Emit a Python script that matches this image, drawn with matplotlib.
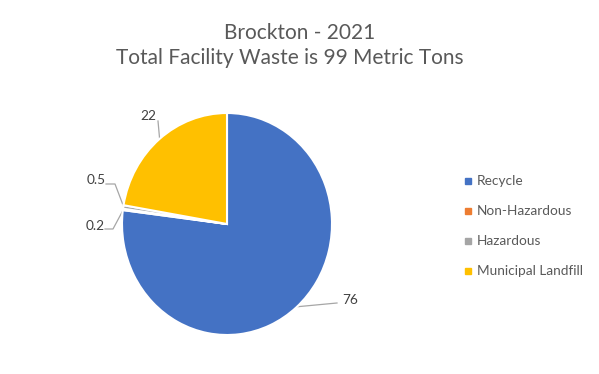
import numpy as np
import matplotlib
matplotlib.use("Agg")
import matplotlib.pyplot as plt
from matplotlib.lines import Line2D

categories = ["Recycle", "Non-Hazardous", "Hazardous", "Municipal Landfill"]
values = [76, 0.2, 0.5, 22]
value_labels = ["76", "0.2", "0.5", "22"]
colors = ["#4472C4", "#ED7D31", "#A5A5A5", "#FFC000"]

plt.rcParams['font.family'] = ['Lato', 'DejaVu Sans']

W, H = 599, 374
fig = plt.figure(figsize=(W / 100, H / 100), dpi=100)

# pie centre (227, 224) px, slightly stretched vertically like the source
cx, cy, rx, ry = 227, 224, 105, 111
ax = fig.add_axes([(cx - rx) / W, (H - cy - ry) / H, 2 * rx / W, 2 * ry / H])
wedges, _ = ax.pie(values, colors=colors, startangle=90, counterclock=False,
                   wedgeprops=dict(edgecolor="white", linewidth=1.5))
ax.set_xlim(-1, 1)
ax.set_ylim(-1, 1)
ax.set_aspect("auto")
ax.axis("off")

def px(x, y):
    # pixel offsets -> data units
    return (x - cx) / rx, (cy - y) / ry

# label text position and leader elbow (pixels), one per slice
label_pos = {"76": (350, 300), "0.2": (95, 226), "0.5": (96, 180), "22": (148, 116)}
elbows = {"76": [(337, 303)], "0.2": [(105, 229), (113, 229)],
          "0.5": [(106, 184), (115, 184)], "22": [(158, 121)]}

for w, lab in zip(wedges, value_labels):
    mid = np.deg2rad((w.theta1 + w.theta2) / 2)
    ex, ey = np.cos(mid) * 0.995, np.sin(mid) * 0.995
    pts = [px(*p) for p in elbows[lab]] + [(ex, ey)]
    xs, ys = zip(*pts)
    ax.plot(xs, ys, color="#A6A6A6", lw=0.9, clip_on=False, zorder=0)
    tx, ty = px(*label_pos[lab])
    ax.text(tx, ty, lab, ha="center", va="center", fontsize=9.8,
            color="#404040", clip_on=False)

fig.text(300 / W, 1 - 33 / H, "Brockton - 2021", ha="center", va="center",
         fontsize=15, color="#595959")
fig.text(290 / W, 1 - 58 / H, "Total Facility Waste is 99 Metric Tons",
         ha="center", va="center", fontsize=15, color="#595959")

handles = [Line2D([], [], marker="s", linestyle="none", markersize=4.5,
                  markerfacecolor=c, markeredgecolor=c) for c in colors]
fig.legend(handles, categories, loc="upper left",
           bbox_to_anchor=(458 / W, 1 - 170 / H), frameon=False,
           fontsize=9.8, labelcolor="#595959", handlelength=0.6,
           handletextpad=0.4, labelspacing=1.32, borderaxespad=0)

fig.savefig("out.png", dpi=100, facecolor="white")
